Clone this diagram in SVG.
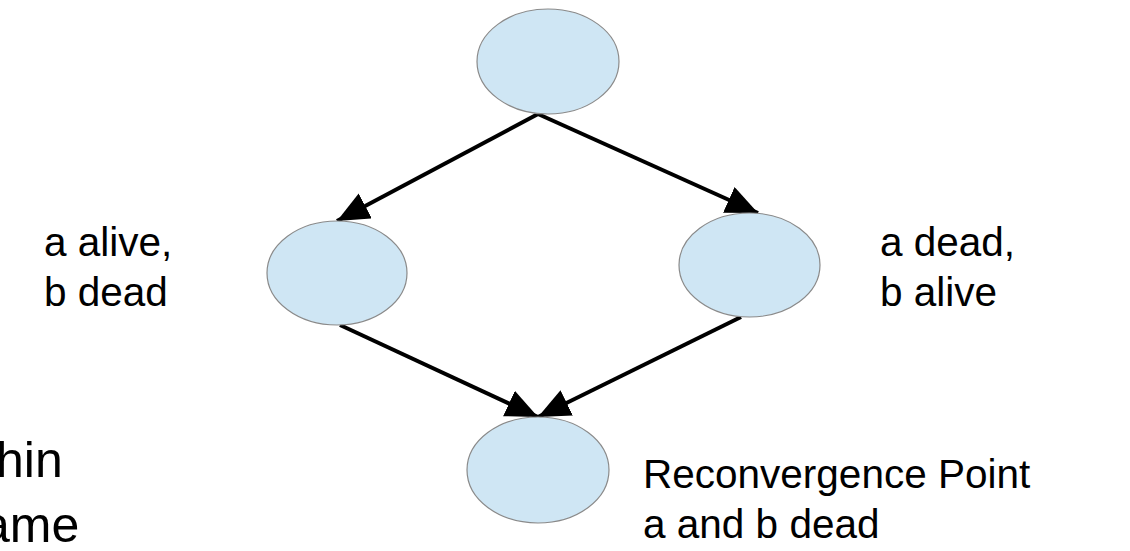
<svg xmlns="http://www.w3.org/2000/svg" width="1130" height="551" viewBox="0 0 1130 551">
  <style>
    .node { fill: #cfe6f4; stroke: #8a8a8a; stroke-width: 1.2; }
    .edge { stroke: #000; stroke-width: 4; fill: none; marker-end: url(#arrow); }
    .label { font-family: "Liberation Sans", Arial, sans-serif; font-size: 40.5px; fill: #000; }
    .note { font-family: "Liberation Sans", Arial, sans-serif; font-size: 50px; fill: #000; }
  </style>
  <defs>
    <marker id="arrow" markerUnits="userSpaceOnUse" markerWidth="34" markerHeight="30" refX="32" refY="14" orient="auto">
      <path d="M0,0 L32,14 L0,28 Z" fill="#000"/>
    </marker>
  </defs>
  <rect width="1130" height="551" fill="#fff"/>

  <g id="connectors">
    <line class="edge" x1="538" y1="114" x2="337" y2="221"/>
    <line class="edge" x1="538" y1="114" x2="758" y2="213"/>
    <line class="edge" x1="340" y1="325" x2="538" y2="417"/>
    <line class="edge" x1="741" y1="317" x2="538" y2="417"/>
  </g>

  <g id="node-top">
    <ellipse class="node" cx="548" cy="61.5" rx="71" ry="52.5"/>
  </g>
  <g id="node-left">
    <ellipse class="node" cx="337" cy="273" rx="70" ry="52"/>
    <text class="label" x="44" y="256">a alive,</text>
    <text class="label" x="44" y="306">b dead</text>
  </g>
  <g id="node-right">
    <ellipse class="node" cx="749.5" cy="265" rx="70.5" ry="52"/>
    <text class="label" x="880" y="256">a dead,</text>
    <text class="label" x="880" y="306">b alive</text>
  </g>
  <g id="node-bottom">
    <ellipse class="node" cx="538" cy="470" rx="71" ry="53"/>
    <text class="label" x="643" y="488">Reconvergence Point</text>
    <text class="label" x="643" y="538">a and b dead</text>
  </g>
  <g id="note">
    <text class="note" x="-4" y="477">hin</text>
    <text class="note" x="-18" y="542">ame</text>
  </g>
</svg>
